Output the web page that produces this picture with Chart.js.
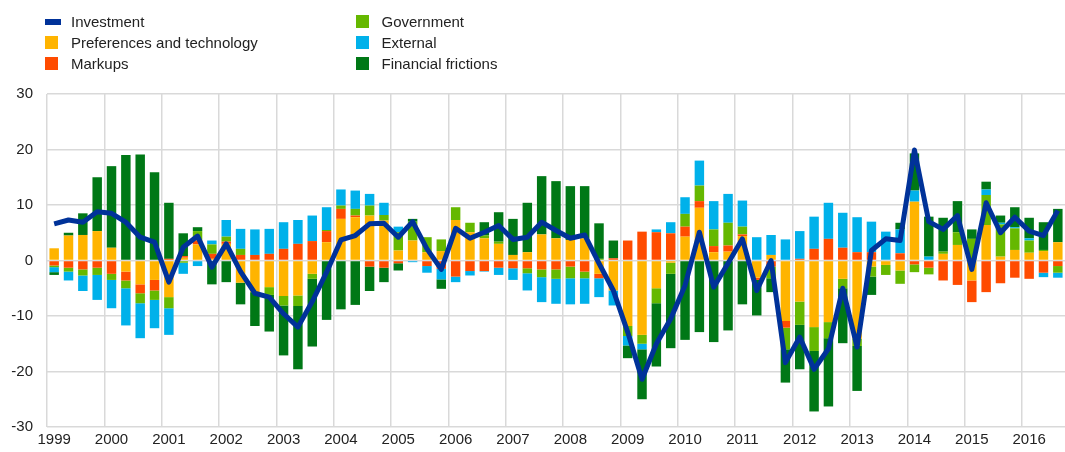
<!DOCTYPE html>
<html>
<head>
<meta charset="utf-8">
<script src="https://cdn.jsdelivr.net/npm/chart.js@4.4.1/dist/chart.umd.min.js"></script>
<style>
  html, body { margin: 0; padding: 0; background: #fff; }
  #wrap { position: relative; width: 1065px; height: 452px; overflow: hidden; }
  #chart { position: absolute; left: 0; top: 0; }
  #legend { position: absolute; left: 0; top: 0; width: 1065px; height: 80px; font: 15px "Liberation Sans", Arial, sans-serif; color: #222; }
  .item { position: absolute; height: 18px; line-height: 18px; white-space: nowrap; }
  .item .box { position: absolute; left: 0; top: 2.5px; width: 13px; height: 13px; }
  .item .box.line { top: 6px; width: 16px; height: 6px; }
  .item .text { position: absolute; left: 26px; top: 0; }
</style>
</head>
<body>
<div id="wrap">
  <canvas id="chart" width="1065" height="452"></canvas>
  <div id="legend"></div>
</div>
<script>
// tick labels, one per year (first quarter of each year)
const years = ['1999', '2000', '2001', '2002', '2003', '2004', '2005', '2006', '2007', '2008',
               '2009', '2010', '2011', '2012', '2013', '2014', '2015', '2016'];

// quarterly categories, 1999Q1 - 2016Q3
const quarters = [];
years.forEach(y => ['Q1', 'Q2', 'Q3', 'Q4'].forEach(q => quarters.push(y + q)));
quarters.length = 71;

// series (percentage points)
const investment = [
   6.6,  7.3,  6.9,  8.8,  8.5,  6.9,  4.2,  3.3, -3.9,  2.4,
   4.4, -1.2,  3.0, -2.0, -5.9, -6.6, -9.6,-12.0, -7.4, -2.1,
   3.7,  4.5,  6.6,  6.7,  4.2,  7.0,  2.1, -1.6,  5.8,  4.0,
   5.1,  6.3,  3.8,  4.2,  6.9,  5.4,  4.0,  4.6, -0.5, -5.4,
 -12.9,-21.4,-15.0,-10.5, -4.5,  5.1, -4.8, -0.5,  3.9, -5.4,
   0.0,-18.4,-13.8,-19.6,-15.9, -5.0,-15.6,  1.8,  3.9,  3.6,
  19.9,  7.0,  5.6,  8.1, -1.6, 10.4,  5.0,  7.8,  5.3,  4.5,
   9.0
];
const preferences = [
   2.2,  4.5,  4.6,  5.3,  2.3, -2.0, -4.3, -3.5, -6.6,  0.5,
   2.9,  0.3,  3.0, -4.0, -5.7, -4.8, -6.4, -6.3, -2.4,  3.3,
   7.5,  7.8,  8.1,  7.2,  1.8,  3.6,  1.5,  1.7,  7.3,  5.1,
   4.0,  3.0,  1.0,  1.5,  4.7,  4.0,  3.7,  4.0, -2.4, -5.4,
 -11.8,-13.4, -5.0, -0.4,  4.3,  9.5,  1.5,  1.6,  4.4, -3.1,
   1.0,-10.9, -7.4,-12.0,-11.1, -3.3,-14.1, -1.1, -0.8, -1.8,
  10.6,  0.0,  1.2,  2.8, -3.6,  6.4,  0.7,  1.9,  1.4,  1.7,
   3.3
];
const markups = [
  -0.9, -1.3, -1.6, -1.3, -2.4, -1.6, -1.6, -1.9,  0.3,  0.3,
   0.7,  0.9,  0.4,  1.0,  1.0,  1.2,  2.1,  3.0,  3.5,  2.0,
   1.8,  0.3, -1.1, -1.3, -0.5,  0.0, -1.0, -1.5, -2.9, -1.9,
  -1.9, -1.3, -1.4, -1.4, -1.6, -1.6, -1.1, -2.0, -0.8,  0.4,
   3.6,  5.2,  5.1,  4.9,  1.8,  1.2,  1.1,  1.1,  0.3, -0.4,
  -1.1, -1.2,  0.3,  2.1,  3.9,  2.3,  1.5,  1.5,  0.0,  1.3,
  -0.7, -1.3, -3.6, -4.4, -3.9, -5.7, -4.1, -3.1, -3.3, -2.2,
  -1.0
];
const government = [
  -0.3, -0.7, -1.1, -1.3, -1.1, -1.4, -1.8, -1.7, -2.0, -0.4,
   1.7,  1.7,  0.9,  1.1,  0.0, -1.4, -1.7, -1.9, -0.9,  0.2,
   0.6,  1.2,  1.8,  1.0,  3.3,  3.4,  2.7,  2.1,  2.3,  1.7,
   0.5,  0.4,  0.0, -0.9, -1.4, -1.7, -2.1, -1.2,  0.3,  0.0,
  -1.8, -1.6, -2.7, -2.0,  2.3,  2.8,  3.0,  4.1,  1.4,  0.0,
  -2.1, -3.9, -4.2, -4.3, -2.9, -1.7, -1.3, -1.8, -1.8, -2.4,
  -1.4, -1.2,  0.4,  2.3,  3.9,  5.4,  5.8,  3.9,  2.2,  0.2,
  -1.2
];
const external = [
  -0.9, -1.6, -2.8, -4.5, -5.1, -6.7, -6.3, -5.1, -4.8, -2.0,
  -1.0,  0.7,  3.0,  3.6,  4.6,  4.5,  4.8,  4.3,  4.6,  4.1,
   2.9,  3.3,  2.1,  2.2,  1.0, -0.3, -1.2, -1.9, -1.0, -0.8,
  -0.1, -1.3, -2.1, -3.1, -4.5, -4.5, -4.7, -4.6, -3.4, -2.7,
  -1.7, -1.0,  0.5,  2.0,  3.0,  4.5,  5.1,  5.2,  4.7,  4.2,
   3.6,  3.8,  5.0,  5.8,  6.5,  6.3,  6.3,  5.5,  5.2,  4.3,
   2.0,  0.7,  0.0,  0.0,  0.0,  1.0,  0.3,  0.2,  0.4, -0.8,
  -0.9
];
const financial = [
  -0.5,  0.5,  3.9,  9.7, 14.7, 19.0, 19.1, 15.9, 10.1,  4.1,
   0.7, -4.3, -3.9, -3.9, -6.1, -6.6, -9.0,-11.4,-12.2,-10.7,
  -8.8, -8.0, -4.4, -2.6, -1.3,  0.5,  0.0, -1.7,  0.0,  0.0,
   2.4,  5.3,  6.5,  8.9, 10.5, 10.3,  9.7,  9.4,  6.4,  3.2,
  -2.3, -9.0,-11.4,-13.4,-14.3,-12.9,-14.7,-12.6, -7.9, -6.4,
  -2.5, -6.0, -8.0,-10.9,-12.3, -9.9, -8.1, -3.3,  0.0,  1.2,
   6.7,  7.2,  6.1,  5.6,  1.7,  1.4,  1.3,  3.6,  3.7,  5.0,
   6.0
];

const FONT = '"Liberation Sans", Arial, sans-serif';
const TEXT = '#222222';

const barSeries = [
  { label: 'Preferences and technology', data: preferences, color: '#ffb400' },
  { label: 'Markups', data: markups, color: '#ff4b00' },
  { label: 'Government', data: government, color: '#65b800' },
  { label: 'External', data: external, color: '#00b1ea' },
  { label: 'Financial frictions', data: financial, color: '#007816' }
];

const datasets = [{
  type: 'line',
  label: 'Investment',
  data: investment,
  stack: 'line',
  borderColor: '#003299',
  backgroundColor: '#003299',
  borderWidth: 5,
  borderJoinStyle: 'round',
  pointRadius: 0,
  tension: 0,
  fill: false,
  order: 0
}];
barSeries.forEach(s => datasets.push({
  type: 'bar',
  label: s.label,
  data: s.data,
  stack: 'bars',
  backgroundColor: s.color,
  borderWidth: 0,
  categoryPercentage: 1,
  barPercentage: 0.66,
  order: 1
}));

// legend in two columns, like the original
const legendItems = [
  { label: 'Investment', color: '#003299', line: true, col: 0, row: 0 },
  { label: barSeries[0].label, color: barSeries[0].color, col: 0, row: 1 },
  { label: barSeries[1].label, color: barSeries[1].color, col: 0, row: 2 },
  { label: barSeries[2].label, color: barSeries[2].color, col: 1, row: 0 },
  { label: barSeries[3].label, color: barSeries[3].color, col: 1, row: 1 },
  { label: barSeries[4].label, color: barSeries[4].color, col: 1, row: 2 }
];
const legend = document.getElementById('legend');
legendItems.forEach(it => {
  const div = document.createElement('div');
  div.className = 'item';
  div.style.left = (it.col === 0 ? 45 : 355.5) + 'px';
  div.style.top = (12.5 + it.row * 21.2) + 'px';
  div.innerHTML = '<span class="box' + (it.line ? ' line' : '') + '" style="background:' + it.color + '"></span>' +
                  '<span class="text">' + it.label + '</span>';
  legend.appendChild(div);
});

const ctx = document.getElementById('chart').getContext('2d');
new Chart(ctx, {
  type: 'bar',
  data: { labels: quarters, datasets: datasets },
  options: {
    responsive: false,
    animation: false,
    layout: { padding: { top: 94, right: 0, bottom: 3, left: 0 } },
    plugins: {
      legend: { display: false },
      tooltip: { enabled: false }
    },
    scales: {
      x: {
        stacked: true,
        offset: true,
        border: { display: false },
        grid: {
          offset: true,
          drawTicks: false,
          lineWidth: 1.5,
          color: c => (c.index !== undefined && c.index % 4 === 0) ? '#d9d9d9' : 'rgba(0,0,0,0)'
        },
        ticks: {
          autoSkip: false,
          maxRotation: 0,
          padding: 4,
          color: TEXT,
          font: { family: FONT, size: 15 },
          callback: (v, i) => i % 4 === 0 ? years[i / 4] : ''
        },
        afterFit: s => { s.height = 22; }
      },
      y: {
        stacked: true,
        min: -30,
        max: 30,
        border: { display: false },
        grid: { drawTicks: false, lineWidth: 1.5, color: '#d9d9d9' },
        ticks: {
          stepSize: 10,
          padding: 14,
          color: TEXT,
          font: { family: FONT, size: 15 }
        },
        afterFit: s => { s.width = 47; }
      }
    }
  }
});
</script>
</body>
</html>
